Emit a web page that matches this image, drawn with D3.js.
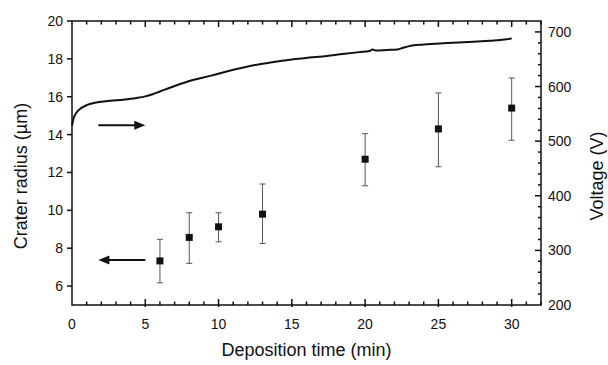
<!DOCTYPE html>
<html>
<head>
<meta charset="utf-8">
<script src="https://cdn.jsdelivr.net/npm/d3@7"></script>
<style>
  html, body { margin: 0; padding: 0; background: #fff; }
  svg { display: block; }
</style>
</head>
<body>
<svg id="chart" width="608" height="365"></svg>
<script>
// Crater radius (left axis) with error bars
const times    = [6, 8, 10, 13, 20, 25, 30];
const radius   = [7.33, 8.57, 9.13, 9.80, 12.70, 14.30, 15.40];
const radiusLo = [6.17, 7.20, 8.34, 8.25, 11.30, 12.30, 13.70];
const radiusHi = [8.47, 9.87, 9.87, 11.39, 14.05, 16.20, 16.99];

// Voltage trace (right axis)
const vTime = [0, 0.1, 0.3, 0.6, 1.0, 1.5, 2.0, 2.6, 3.5, 4.4, 5.0, 5.5, 6.0, 7.0, 8.25, 9.5,
               10.6, 11.7, 12.8, 14.0, 15.1, 16.2, 17.4, 18.3, 19.6, 20.3, 20.5, 20.7, 21.5,
               22.2, 22.6, 23.0, 24.0, 25.1, 26.0, 27.4, 28.5, 29.5, 30.0];
const vVolt = [528, 541, 552, 560, 566, 570, 572, 574, 576, 579, 582, 586, 591, 601, 612, 620,
               628, 635, 641, 646, 650, 653, 656, 659, 663, 665, 668, 666, 667,
               668, 671, 674, 677, 679, 680, 682, 684, 686, 688];

// Tick labels
const xTicks = [0, 5, 10, 15, 20, 25, 30];
const yLeftTicks = [6, 8, 10, 12, 14, 16, 18, 20];
const yRightTicks = [200, 300, 400, 500, 600, 700];

// Arrows: [from t, to t, value on left axis]
const arrows = [[1.8, 5.0, 14.5], [5.0, 1.8, 7.38]];

(function() {
    const M = { left: 72, right: 541, top: 21, bottom: 305 };
    const FONT = '"Liberation Sans", Arial, sans-serif';

    const svg = d3.select('#chart');

    const x  = d3.scaleLinear().domain([0, 32]).range([M.left, M.right]);
    const yL = d3.scaleLinear().domain([5, 20]).range([M.bottom, M.top]);
    const yR = d3.scaleLinear().domain([200, 720]).range([M.bottom, M.top]);

    // ── Voltage trace ─────────────────────────────
    const line = d3.line()
        .x(function(d) { return x(d[0]); })
        .y(function(d) { return yR(d[1]); })
        .curve(d3.curveMonotoneX);
    svg.append('path')
        .datum(vTime.map(function(t, i) { return [t, vVolt[i]]; }))
        .attr('d', line)
        .attr('fill', 'none')
        .attr('stroke', '#111')
        .attr('stroke-width', 2);

    // ── Error bars + markers ──────────────────────
    const g = svg.append('g');
    times.forEach(function(t, i) {
        const cx = x(t);
        g.append('line')
            .attr('x1', cx).attr('x2', cx)
            .attr('y1', yL(radiusLo[i])).attr('y2', yL(radiusHi[i]))
            .attr('stroke', '#555').attr('stroke-width', 1);
        [radiusLo[i], radiusHi[i]].forEach(function(v) {
            g.append('line')
                .attr('x1', cx - 3).attr('x2', cx + 3)
                .attr('y1', yL(v)).attr('y2', yL(v))
                .attr('stroke', '#555').attr('stroke-width', 1);
        });
        g.append('rect')
            .attr('x', cx - 3.5).attr('y', yL(radius[i]) - 3.5)
            .attr('width', 7).attr('height', 7)
            .attr('fill', '#111');
    });

    // ── Arrows ────────────────────────────────────
    arrows.forEach(function(a) {
        const x0 = x(a[0]), x1 = x(a[1]), yy = yL(a[2]);
        const dir = x1 > x0 ? 1 : -1;
        svg.append('line')
            .attr('x1', x0).attr('x2', x1 - dir * 8)
            .attr('y1', yy).attr('y2', yy)
            .attr('stroke', '#111').attr('stroke-width', 2);
        svg.append('path')
            .attr('d', 'M' + x1 + ',' + yy + 'L' + (x1 - dir * 11) + ',' + (yy - 4.5) +
                       'L' + (x1 - dir * 11) + ',' + (yy + 4.5) + 'Z')
            .attr('fill', '#111');
    });

    // ── Axes frame ────────────────────────────────
    const ax = svg.append('g').attr('stroke', '#111').attr('stroke-width', 1.5);
    ax.append('rect')
        .attr('x', M.left).attr('y', M.top)
        .attr('width', M.right - M.left).attr('height', M.bottom - M.top)
        .attr('fill', 'none');

    // bottom + top ticks (minor every 1, major every 5)
    d3.range(1, 33).forEach(function(t) {
        const major = t % 5 === 0;
        const px = x(t);
        ax.append('line').attr('x1', px).attr('x2', px)
            .attr('y1', M.bottom + (major ? 2 : 0)).attr('y2', M.bottom - (major ? 6 : 3.5));
        ax.append('line').attr('x1', px).attr('x2', px)
            .attr('y1', M.top).attr('y2', M.top + (major ? 6 : 3.5));
    });

    // left ticks (outward)
    yLeftTicks.forEach(function(v) {
        ax.append('line').attr('x1', M.left - 5).attr('x2', M.left)
            .attr('y1', yL(v)).attr('y2', yL(v));
    });

    // right ticks (inward, minor every 20 V)
    d3.range(220, 720, 20).forEach(function(v) {
        const major = v % 100 === 0;
        ax.append('line').attr('x1', M.right - (major ? 6 : 3)).attr('x2', M.right)
            .attr('y1', yR(v)).attr('y2', yR(v));
    });

    // ── Tick labels ───────────────────────────────
    const lab = svg.append('g')
        .attr('font-family', FONT).attr('font-size', 14).attr('fill', '#111');
    xTicks.forEach(function(t) {
        lab.append('text').attr('x', x(t)).attr('y', M.bottom + 24)
            .attr('text-anchor', 'middle').text(t);
    });
    yLeftTicks.forEach(function(v) {
        lab.append('text').attr('x', M.left - 9).attr('y', yL(v) + 5)
            .attr('text-anchor', 'end').text(v);
    });
    yRightTicks.forEach(function(v) {
        lab.append('text').attr('x', M.right + 7).attr('y', yR(v) + 5)
            .attr('text-anchor', 'start').text(v);
    });

    // ── Axis titles ───────────────────────────────
    const ttl = svg.append('g')
        .attr('font-family', FONT).attr('font-size', 18).attr('fill', '#111');
    ttl.append('text')
        .attr('x', (M.left + M.right) / 2).attr('y', 356)
        .attr('text-anchor', 'middle')
        .text('Deposition time (min)');
    ttl.append('text')
        .attr('transform', 'translate(27,176) rotate(-90)')
        .attr('text-anchor', 'middle')
        .text('Crater radius (µm)');
    ttl.append('text')
        .attr('transform', 'translate(603,176) rotate(-90)')
        .attr('text-anchor', 'middle')
        .text('Voltage (V)');
})();
</script>
</body>
</html>
